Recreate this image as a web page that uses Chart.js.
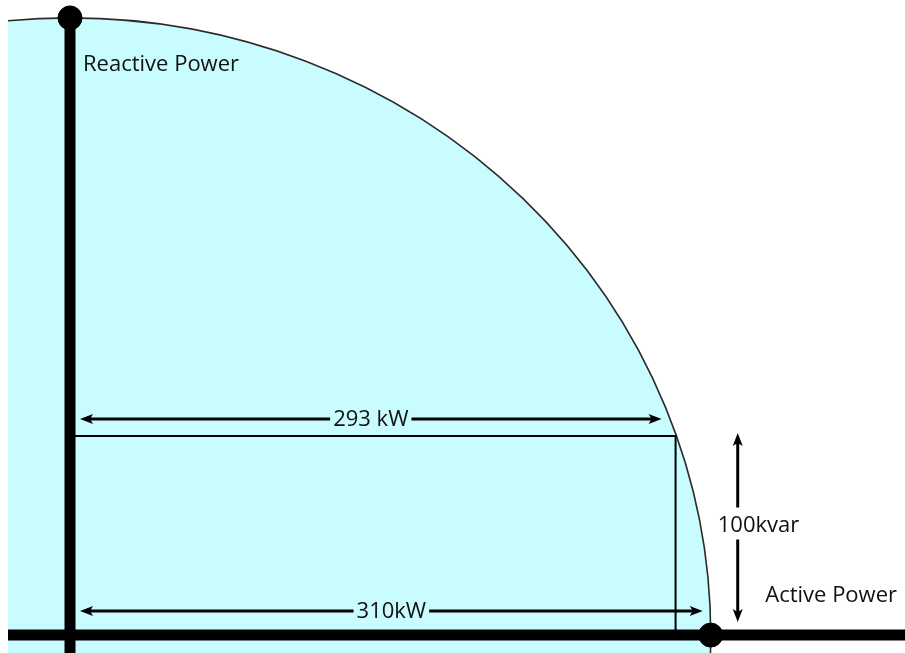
<!DOCTYPE html>
<html lang="en">
<head>
    <meta charset="UTF-8">
    <title>Active / Reactive Power Capability</title>
    <script src="https://cdn.jsdelivr.net/npm/chart.js"></script>
    <style>
        body { margin: 0; background: #fff; }
        .wrap { width: 905px; height: 653px; position: relative; }
    </style>
</head>
<body>
    <div class="wrap">
        <canvas id="pqChart"></canvas>
    </div>
    <script>
        // values
        const apparentPower = 310;          // kW, radius of the capability circle
        const activePower = [293, 310];     // kW
        const reactivePower = [100];        // kvar
        const arrowLabels = ['293 kW', '310kW', '100kvar'];
        const axisLabels = ['Reactive Power', 'Active Power'];
        const xRange = [-30, 404];
        const yRange = [-9, 319];

        const fillColor = '#c9fcfe';
        const labelFont = '22px "Open Sans", sans-serif';

        function arrowHead(ctx, x, y, angle) {
            ctx.save();
            ctx.translate(x, y);
            ctx.rotate(angle);
            ctx.beginPath();
            ctx.moveTo(0, 0);
            ctx.lineTo(-13, -5);
            ctx.lineTo(-10, 0);
            ctx.lineTo(-13, 5);
            ctx.closePath();
            ctx.fill();
            ctx.restore();
        }

        // double headed arrow with a gap for its label
        function labelledArrow(ctx, x1, y1, x2, y2, text, tx, ty) {
            ctx.font = labelFont;
            const w = ctx.measureText(text).width;
            const horizontal = y1 === y2;
            ctx.lineWidth = 3;
            ctx.strokeStyle = '#000';
            ctx.fillStyle = '#000';
            ctx.beginPath();
            if (horizontal) {
                const mid = (x1 + x2) / 2;
                ctx.moveTo(x1 + 8, y1); ctx.lineTo(mid - w / 2 - 3, y1);
                ctx.moveTo(mid + w / 2 + 3, y1); ctx.lineTo(x2 - 8, y1);
            } else {
                ctx.moveTo(x1, y1 + 8); ctx.lineTo(x1, ty - 24);
                ctx.moveTo(x1, ty + 8); ctx.lineTo(x1, y2 - 8);
            }
            ctx.stroke();
            const ang = Math.atan2(y2 - y1, x2 - x1);
            arrowHead(ctx, x2, y2, ang);
            arrowHead(ctx, x1, y1, ang + Math.PI);
            ctx.fillStyle = '#111';
            ctx.textBaseline = 'alphabetic';
            if (horizontal) {
                ctx.textAlign = 'center';
                ctx.fillText(text, (x1 + x2) / 2, y1 + 7);
            } else {
                ctx.textAlign = 'left';
                ctx.fillText(text, tx, ty);
            }
        }

        const powerCircle = {
            id: 'powerCircle',
            beforeDatasetsDraw(chart) {
                const { ctx, chartArea, scales: { x, y } } = chart;
                const cx = x.getPixelForValue(0);
                const cy = y.getPixelForValue(0);
                const rx = x.getPixelForValue(apparentPower) - cx;
                const ry = cy - y.getPixelForValue(apparentPower);
                ctx.save();
                ctx.beginPath();
                ctx.rect(chartArea.left, chartArea.top, chartArea.width, chartArea.height);
                ctx.clip();
                ctx.beginPath();
                ctx.ellipse(cx, cy, rx, ry, 0, 0, 2 * Math.PI);
                ctx.fillStyle = fillColor;
                ctx.fill();
                ctx.lineWidth = 1.6;
                ctx.strokeStyle = '#2b2b2b';
                ctx.stroke();
                ctx.restore();
            },
            afterDatasetsDraw(chart) {
                const { ctx, chartArea, scales: { x, y } } = chart;
                const x0 = x.getPixelForValue(0);
                const y0 = y.getPixelForValue(0);
                const xp1 = x.getPixelForValue(activePower[0]);
                const xp2 = x.getPixelForValue(activePower[1]);
                const yq = y.getPixelForValue(reactivePower[0]);
                ctx.save();
                labelledArrow(ctx, x0 + 10, yq - 17, xp1 - 14, yq - 17, arrowLabels[0]);
                labelledArrow(ctx, x0 + 10, y0 - 24, xp2 - 8, y0 - 24, arrowLabels[1]);
                labelledArrow(ctx, xp2 + 27, yq - 3, xp2 + 27, y0 - 13, arrowLabels[2], xp2 + 7, (yq + y0) / 2 - 4);

                ctx.font = labelFont;
                ctx.fillStyle = '#111';
                ctx.textBaseline = 'alphabetic';
                ctx.textAlign = 'left';
                ctx.fillText(axisLabels[0], x0 + 13, y.getPixelForValue(apparentPower) + 53);
                ctx.textAlign = 'right';
                ctx.fillText(axisLabels[1], chartArea.right - 8, y0 - 33);
                ctx.restore();
            }
        };

        new Chart(document.getElementById('pqChart'), {
            type: 'scatter',
            data: {
                datasets: [
                    {
                        // operating point box
                        data: [
                            { x: 0, y: reactivePower[0] },
                            { x: activePower[0], y: reactivePower[0] },
                            { x: activePower[0], y: 0 }
                        ],
                        showLine: true,
                        borderColor: '#000',
                        borderWidth: 2,
                        pointRadius: 0
                    },
                    {
                        // reactive power axis
                        data: [{ x: 0, y: apparentPower }, { x: 0, y: yRange[0] }],
                        showLine: true,
                        borderColor: '#000',
                        borderWidth: 11,
                        borderCapStyle: 'butt',
                        pointRadius: 0,
                        clip: false
                    },
                    {
                        // active power axis
                        data: [{ x: xRange[0], y: 0 }, { x: xRange[1], y: 0 }],
                        showLine: true,
                        borderColor: '#000',
                        borderWidth: 11,
                        borderCapStyle: 'butt',
                        pointRadius: 0
                    },
                    {
                        data: [{ x: 0, y: apparentPower }, { x: apparentPower, y: 0 }],
                        backgroundColor: '#000',
                        borderColor: '#000',
                        pointRadius: 12,
                        clip: false
                    }
                ]
            },
            options: {
                responsive: true,
                maintainAspectRatio: false,
                animation: false,
                layout: { autoPadding: false, padding: { left: 8, right: 0, top: 0, bottom: 0 } },
                plugins: {
                    legend: { display: false },
                    tooltip: { enabled: false }
                },
                scales: {
                    x: { type: 'linear', min: xRange[0], max: xRange[1], display: false },
                    y: { type: 'linear', min: yRange[0], max: yRange[1], display: false }
                }
            },
            plugins: [powerCircle]
        });
    </script>
</body>
</html>
